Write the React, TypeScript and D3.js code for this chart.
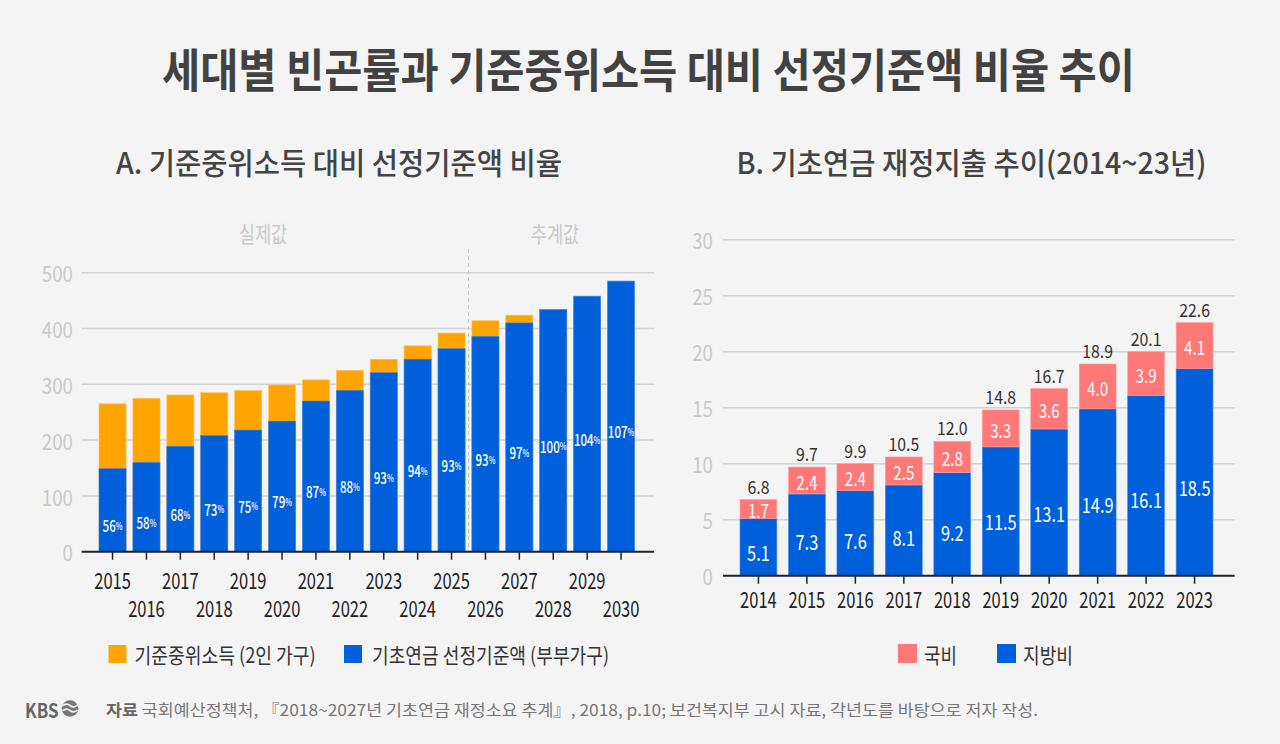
import React from "react";
import * as d3 from "d3";

// ---------- DATA ----------
const leftYears = ["2015","2016","2017","2018","2019","2020","2021","2022","2023","2024","2025","2026","2027","2028","2029","2030"];
const medianIncome = [265, 275, 281, 285, 289, 299, 308, 325, 345, 369, 392, 414, 424, 434, 440, 453];
const pensionThreshold = [149, 160, 189, 208, 218, 234, 270, 289, 321, 345, 364, 386, 410, 434, 458, 485];
const ratioLabels = [56, 58, 68, 73, 75, 79, 87, 88, 93, 94, 93, 93, 97, 100, 104, 107];
const leftTicks = [0, 100, 200, 300, 400, 500];

const rightYears = ["2014","2015","2016","2017","2018","2019","2020","2021","2022","2023"];
const localSpend = [5.1, 7.3, 7.6, 8.1, 9.2, 11.5, 13.1, 14.9, 16.1, 18.5];
const nationalSpend = [1.7, 2.4, 2.4, 2.5, 2.8, 3.3, 3.6, 4.0, 3.9, 4.1];
const totalSpend = ["6.8","9.7","9.9","10.5","12.0","14.8","16.7","18.9","20.1","22.6"];
const rightTicks = [0, 5, 10, 15, 20, 25, 30];

const FONT = "'Noto Sans CJK KR', 'Noto Sans', sans-serif";
const ORANGE = "#FFA400";
const BLUE = "#005FDB";
const PINK = "#FF7878";
const GRID = "#d2d2d2";
const AXISLBL = "#c9c9c9";

function T(props: any) {
  const { x, y, sx = 1, anchor = "middle", size, fill = "#333", weight = 400, children, len } = props;
  return (
    <text
      transform={`translate(${x},${y}) scale(${sx},1)`}
      textAnchor={anchor}
      dominantBaseline="central"
      fontSize={size}
      fill={fill}
      fontWeight={weight}
      fontFamily={FONT}
      textLength={len}
      lengthAdjust={len ? "spacingAndGlyphs" : undefined}
    >
      {children}
    </text>
  );
}

export default function App() {
  // Left chart scales
  const lx = d3.scaleBand<string>().domain(leftYears).range([95.6, 638]).paddingInner(0.2).paddingOuter(0.1);
  const ly = d3.scaleLinear().domain([0, 500]).range([551.7, 272.7]);
  const lGridX0 = 81.7, lGridX1 = 654;

  // Right chart scales
  const rx = d3.scaleBand<string>().domain(rightYears).range([734.2, 1218.8]).paddingInner(0.24).paddingOuter(0.12);
  const ry = d3.scaleLinear().domain([0, 30]).range([575.7, 239.7]);
  const rGridX0 = 722.9, rGridX1 = 1234.6;

  const divider = (lx("2025")! + lx.bandwidth() + lx("2026")!) / 2;

  return (
    <svg width={1280} height={744} style={{ position: "absolute", left: 0, top: 0, display: "block" }}>
      <rect width={1280} height={744} fill="#f4f4f4" />

      {/* Title */}
      <T x={648.5} y={67} size={46} weight={700} fill="#424242" len={973}>
        세대별 빈곤률과 기준중위소득 대비 선정기준액 비율 추이
      </T>
      <text x={116} y={160.5} dominantBaseline="central" fontSize={30} fontWeight={500} fill="#444" fontFamily={FONT} textLength={446} lengthAdjust="spacingAndGlyphs">
        A. 기준중위소득 대비 선정기준액 비율
      </text>
      <text x={736.5} y={160.5} dominantBaseline="central" fontSize={30} fontWeight={500} fill="#444" fontFamily={FONT} textLength={470} lengthAdjust="spacingAndGlyphs">
        B. 기초연금 재정지출 추이(2014~23년)
      </text>

      {/* ---------- LEFT CHART ---------- */}
      <g>
        {leftTicks.filter((t) => t > 0).map((t) => (
          <line key={t} x1={lGridX0} x2={lGridX1} y1={ly(t)} y2={ly(t)} stroke={GRID} strokeWidth={1.5} />
        ))}
        {leftTicks.map((t) => (
          <T key={t} x={73} y={ly(t)} anchor="end" size={22} sx={0.85} fill={AXISLBL}>{t}</T>
        ))}
        <T x={263} y={233} size={22} sx={0.8} fill={AXISLBL}>실제값</T>
        <T x={555} y={233} size={22} sx={0.8} fill={AXISLBL}>추계값</T>
        <line x1={divider} x2={divider} y1={249} y2={551} stroke="#c8c8c8" strokeWidth={1} strokeDasharray="4,3" />

        {leftYears.map((yr, i) => (
          <rect key={"o" + yr} x={lx(yr)} width={lx.bandwidth()} y={ly(medianIncome[i])} height={ly(0) - ly(medianIncome[i])} fill={ORANGE} stroke="#ffc766" strokeWidth={0.6} />
        ))}
        {leftYears.map((yr, i) => (
          <rect key={"b" + yr} x={lx(yr)} width={lx.bandwidth()} y={ly(pensionThreshold[i])} height={ly(0) - ly(pensionThreshold[i])} fill={BLUE} stroke="#3f86e4" strokeWidth={0.6} />
        ))}
        {leftYears.map((yr, i) => {
          const cx = lx(yr)! + lx.bandwidth() / 2;
          const cy = ly(pensionThreshold[i] / 2) + 15;
          return (
            <text key={"p" + yr} transform={`translate(${cx},${cy}) scale(0.72,1)`} textAnchor="middle" dominantBaseline="central" fontFamily={FONT} fill="#fff" fontSize={16} fontWeight={500}>
              {ratioLabels[i]}
              <tspan fontSize={10}>%</tspan>
            </text>
          );
        })}
        <line x1={lGridX0} x2={lGridX1} y1={ly(0)} y2={ly(0)} stroke="#222" strokeWidth={2} />
        {leftYears.map((yr, i) => {
          const cx = lx(yr)! + lx.bandwidth() / 2;
          return (
            <g key={"t" + yr}>
              <line x1={cx} x2={cx} y1={ly(0)} y2={ly(0) + 8} stroke="#222" strokeWidth={1.5} />
              <T x={cx} y={i % 2 === 0 ? 579 : 607.7} size={22} sx={0.75} fill="#222">{yr}</T>
            </g>
          );
        })}

        {/* legend */}
        <rect x={108.5} y={645} width={18} height={18} fill={ORANGE} />
        <text x={134.6} y={654} dominantBaseline="central" fontSize={21} fill="#333" fontFamily={FONT} textLength={181} lengthAdjust="spacingAndGlyphs">기준중위소득 (2인 가구)</text>
        <rect x={344} y={645} width={18} height={18} fill={BLUE} />
        <text x={372} y={654} dominantBaseline="central" fontSize={21} fill="#333" fontFamily={FONT} textLength={237} lengthAdjust="spacingAndGlyphs">기초연금 선정기준액 (부부가구)</text>
      </g>

      {/* ---------- RIGHT CHART ---------- */}
      <g>
        {rightTicks.filter((t) => t > 0).map((t) => (
          <line key={t} x1={rGridX0} x2={rGridX1} y1={ry(t)} y2={ry(t)} stroke={GRID} strokeWidth={1.5} />
        ))}
        {rightTicks.map((t) => (
          <T key={t} x={713} y={ry(t)} anchor="end" size={22} sx={0.85} fill={AXISLBL}>{t}</T>
        ))}
        {rightYears.map((yr, i) => {
          const x = rx(yr)!;
          const w = rx.bandwidth();
          const top = localSpend[i] + nationalSpend[i];
          const cx = x + w / 2;
          return (
            <g key={yr}>
              <rect x={x} width={w} y={ry(localSpend[i])} height={ry(0) - ry(localSpend[i])} fill={BLUE} stroke="#3f86e4" strokeWidth={0.6} />
              <rect x={x} width={w} y={ry(top)} height={ry(localSpend[i]) - ry(top)} fill={PINK} stroke="#ffa0a0" strokeWidth={0.6} />
              <T x={cx} y={ry(localSpend[i] * 0.43)} size={21} sx={0.78} fill="#fff">{localSpend[i].toFixed(1)}</T>
              <T x={cx} y={ry(localSpend[i] + nationalSpend[i] / 2) + 1} size={19} sx={0.8} fill="#fff">{nationalSpend[i].toFixed(1)}</T>
              <T x={cx} y={ry(top) - 14} size={18} sx={0.88} fill="#333">{totalSpend[i]}</T>
            </g>
          );
        })}
        <line x1={rGridX0} x2={rGridX1} y1={ry(0)} y2={ry(0)} stroke="#222" strokeWidth={2} />
        {rightYears.map((yr) => {
          const cx = rx(yr)! + rx.bandwidth() / 2;
          return (
            <g key={"t" + yr}>
              <line x1={cx} x2={cx} y1={ry(0)} y2={ry(0) + 8} stroke="#222" strokeWidth={1.5} />
              <T x={cx} y={598} size={22} sx={0.75} fill="#222">{yr}</T>
            </g>
          );
        })}
        {/* legend */}
        <rect x={898} y={644} width={19} height={19} fill={PINK} />
        <text x={924} y={654} dominantBaseline="central" fontSize={21} fill="#333" fontFamily={FONT} textLength={33} lengthAdjust="spacingAndGlyphs">국비</text>
        <rect x={997} y={644} width={19} height={19} fill={BLUE} />
        <text x={1023} y={654} dominantBaseline="central" fontSize={21} fill="#333" fontFamily={FONT} textLength={50} lengthAdjust="spacingAndGlyphs">지방비</text>
      </g>

      {/* ---------- FOOTER ---------- */}
      <T x={25} y={708.5} anchor="start" size={20} sx={0.85} weight={700} fill="#666">KBS</T>
      <g>
        <circle cx={70} cy={708.5} r={8.3} fill="#777" />
        <path d="M62.5,706 Q66,702.5 70,705.5 T77.5,705" fill="none" stroke="#f4f4f4" strokeWidth={1.6} />
        <path d="M62.5,711 Q66,707.5 70,710.5 T77.5,710" fill="none" stroke="#f4f4f4" strokeWidth={1.6} />
      </g>
      <text x={106} y={708.5} dominantBaseline="central" fontSize={16} fill="#777" fontFamily={FONT} textLength={932} lengthAdjust="spacingAndGlyphs">
        <tspan fontWeight={700} fill="#666">자료</tspan> 국회예산정책처, 『2018~2027년 기초연금 재정소요 추계』, 2018, p.10; 보건복지부 고시 자료, 각년도를 바탕으로 저자 작성.
      </text>
    </svg>
  );
}
